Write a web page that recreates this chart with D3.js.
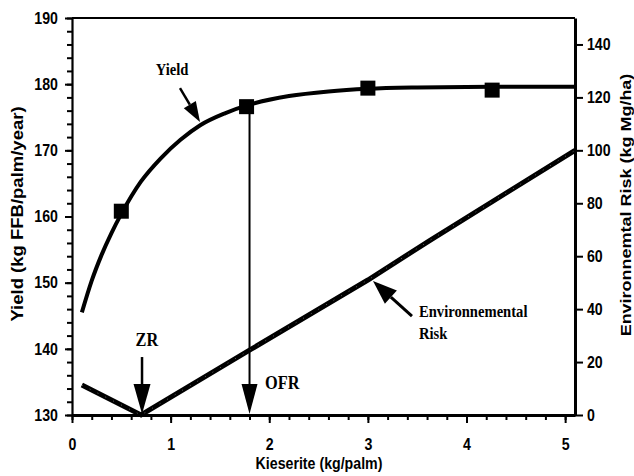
<!DOCTYPE html>
<html>
<head>
<meta charset="utf-8">
<script src="https://cdn.jsdelivr.net/npm/d3@7"></script>
<style>
  body { margin: 0; background: #fff; }
  svg { display: block; }
</style>
</head>
<body>
<div id="chart"></div>
<script>
// Yield response curve (kg FFB/palm/year)
const yieldCurve = [
  [0.1, 145.5], [0.2, 150.3], [0.3, 154.2], [0.4, 157.5], [0.5, 160.4],
  [0.7, 165.3], [0.9, 168.8], [1.1, 171.6], [1.3, 173.8], [1.55, 175.6],
  [1.8, 176.9], [2.2, 178.2], [2.6, 178.9], [3.0, 179.3], [3.5, 179.5],
  [4.25, 179.6], [5.1, 179.6]
];
// measured yields (square markers)
const yieldPoints = [[0.5, 160.8], [1.77, 176.6], [3.0, 179.4], [4.26, 179.1]];
// environmental risk (kg Mg/ha), right axis
const riskLine = [[0.1, 11.3], [0.7, 0], [1.8, 24.5], [3.0, 51], [3.63, 66], [5.1, 100]];

const xTicks = [0, 1, 2, 3, 4, 5];
const yLeftTicks = [130, 140, 150, 160, 170, 180, 190];
const yRightTicks = [0, 20, 40, 60, 80, 100, 120, 140];

// annotations in data units
const zrRate = 0.71;       // zero rate
const ofrRate = 1.8;       // optimum fertilizer rate
const ofrYield = 176.6;
const yieldArrow = [1.095, 179.4, 1.298, 174.3];  // left scale
const envArrow = [3.447, 37.4, 3.052, 50.6];      // right scale

var width = 634, height = 476;
var SX = 0.86; // the source picture is squeezed horizontally

var svg = d3.select("#chart")
  .append("svg")
    .attr("width", width)
    .attr("height", height);

svg.append("rect").attr("width", width).attr("height", height).attr("fill", "#fff");

var x = d3.scaleLinear().domain([0, 5.1]).range([72, 575]);
var yL = d3.scaleLinear().domain([130, 190]).range([415, 18]);
var yR = d3.scaleLinear().domain([0, 150]).range([415, 18]);

var sans = "'Liberation Sans', Arial, sans-serif";
var serif = "'Liberation Serif', 'Times New Roman', serif";

function styleAxis(g, domainW) {
  g.select(".domain").attr("stroke", "#000").attr("stroke-width", domainW);
  g.selectAll(".tick line").attr("stroke", "#000").attr("stroke-width", 2);
  g.selectAll(".tick text")
    .attr("fill", "#000")
    .attr("font-family", sans)
    .attr("font-weight", "bold")
    .attr("font-size", "16.5px");
}

// top frame line
svg.append("line")
  .attr("x1", x(0)).attr("x2", x(5.1))
  .attr("y1", yL(190)).attr("y2", yL(190))
  .attr("stroke", "#000").attr("stroke-width", 2);

// left axis, minor then major
var lMinor = svg.append("g").attr("transform", "translate(72,0)")
  .call(d3.axisLeft(yL).tickValues(d3.range(130, 191, 2)).tickSize(5).tickFormat(""));
lMinor.select(".domain").remove();
lMinor.selectAll(".tick line").attr("stroke", "#000").attr("stroke-width", 2);

var lAxis = svg.append("g").attr("transform", "translate(72,0)")
  .call(d3.axisLeft(yL).tickValues(yLeftTicks).tickSize(7).tickSizeOuter(0).tickFormat(d3.format("d")));
styleAxis(lAxis, 2.2);
lAxis.selectAll(".tick text")
  .attr("x", -14 / SX)
  .attr("transform", "scale(" + SX + ",1)");

// bottom axis
var bMinor = svg.append("g").attr("transform", "translate(0,415)")
  .call(d3.axisBottom(x).tickValues(d3.range(0, 5.01, 0.2)).tickSize(5).tickFormat(""));
bMinor.select(".domain").remove();
bMinor.selectAll(".tick line").attr("stroke", "#000").attr("stroke-width", 2);

var bAxis = svg.append("g").attr("transform", "translate(0,415)")
  .call(d3.axisBottom(x).tickValues(xTicks).tickSize(8).tickSizeOuter(0).tickPadding(15).tickFormat(d3.format("d")));
styleAxis(bAxis, 3);
bAxis.selectAll(".tick text").attr("transform", "scale(" + SX + ",1)");

// right axis
var rAxis = svg.append("g").attr("transform", "translate(575,0)")
  .call(d3.axisRight(yR).tickValues(yRightTicks).tickSize(8).tickSizeOuter(0).tickFormat(d3.format("d")));
styleAxis(rAxis, 3);
rAxis.selectAll(".tick text")
  .attr("x", 12 / SX)
  .attr("transform", "scale(" + SX + ",1)");

// squeezed text helper
function label(txt, px, py, opts) {
  opts = opts || {};
  var t = "translate(" + px + "," + py + ") scale(" + SX + ",1)" + (opts.rotate ? " rotate(" + opts.rotate + ")" : "");
  return svg.append("text")
    .attr("transform", t)
    .attr("text-anchor", opts.anchor || "start")
    .attr("font-family", opts.family || sans)
    .attr("font-weight", "bold")
    .attr("font-size", (opts.size || 16.5) + "px")
    .attr("fill", "#000")
    .text(txt);
}

// axis titles
label("Kieserite (kg/palm)", 319, 469, {anchor: "middle"});
label("Yield (kg FFB/palm/year)", 23, 214, {anchor: "middle", rotate: -90, size: 18.5});
label("Environnemtal Risk (kg Mg/ha)", 631, 205, {anchor: "middle", rotate: -90, size: 18});

// environmental risk line
var riskPath = d3.line()
  .x(function(d) { return x(d[0]); })
  .y(function(d) { return yR(d[1]); });

svg.append("path")
  .datum(riskLine)
  .attr("d", riskPath)
  .attr("fill", "none")
  .attr("stroke", "#000")
  .attr("stroke-width", 5);

svg.append("path")
  .datum(riskLine)
  .attr("d", riskPath)
  .attr("fill", "none")
  .attr("stroke", "#fff")
  .attr("stroke-width", 0.8)
  .attr("stroke-dasharray", "0.8 8")
  .attr("opacity", 0.6);

// yield curve
var yieldPath = d3.line()
  .x(function(d) { return x(d[0]); })
  .y(function(d) { return yL(d[1]); })
  .curve(d3.curveMonotoneX);

svg.append("path")
  .datum(yieldCurve)
  .attr("d", yieldPath)
  .attr("fill", "none")
  .attr("stroke", "#000")
  .attr("stroke-width", 4);

// arrow: shaft from (x1,y1) to (x2,y2) with a filled head at (x2,y2)
function arrow(x1, y1, x2, y2, headLen, headW, lineW) {
  var dx = x2 - x1, dy = y2 - y1;
  var len = Math.sqrt(dx * dx + dy * dy);
  var ux = dx / len, uy = dy / len;
  var bx = x2 - ux * headLen, by = y2 - uy * headLen;
  svg.append("line")
    .attr("x1", x1).attr("y1", y1).attr("x2", bx).attr("y2", by)
    .attr("stroke", "#000").attr("stroke-width", lineW);
  var pts = [
    [x2, y2],
    [bx - uy * headW / 2, by + ux * headW / 2],
    [bx + uy * headW / 2, by - ux * headW / 2]
  ];
  svg.append("polygon")
    .attr("points", pts.map(function(p) { return p.join(","); }).join(" "))
    .attr("fill", "#000");
}

// OFR drop line from the yield curve to the x axis
arrow(x(ofrRate), yL(ofrYield), x(ofrRate), yR(0) - 1, 30, 16, 2);
// ZR arrow
arrow(x(zrRate), yR(21.9), x(zrRate), yR(0) - 1, 30, 17, 2.5);
// yield label arrow
arrow(x(yieldArrow[0]), yL(yieldArrow[1]), x(yieldArrow[2]), yL(yieldArrow[3]), 20, 14, 2.5);
// environmental risk label arrow
arrow(x(envArrow[0]), yR(envArrow[1]), x(envArrow[2]), yR(envArrow[3]), 24, 18, 3);

// yield markers
svg.selectAll("rect.pt")
  .data(yieldPoints)
  .enter()
  .append("rect")
    .attr("class", "pt")
    .attr("x", function(d) { return x(d[0]) - 7.5; })
    .attr("y", function(d) { return yL(d[1]) - 7.5; })
    .attr("width", 15)
    .attr("height", 15)
    .attr("fill", "#000");

// annotation labels
label("Yield", x(1.014), yL(181.4), {anchor: "middle", family: serif, size: 17});
label("ZR", x(0.76), yR(26), {anchor: "middle", family: serif, size: 19});
label("OFR", x(1.957), yR(9.8), {family: serif, size: 19});
label("Environnemental", x(3.518), yR(37.0), {family: serif, size: 17});
label("Risk", x(3.518), yR(28.7), {family: serif, size: 17});
</script>
</body>
</html>
